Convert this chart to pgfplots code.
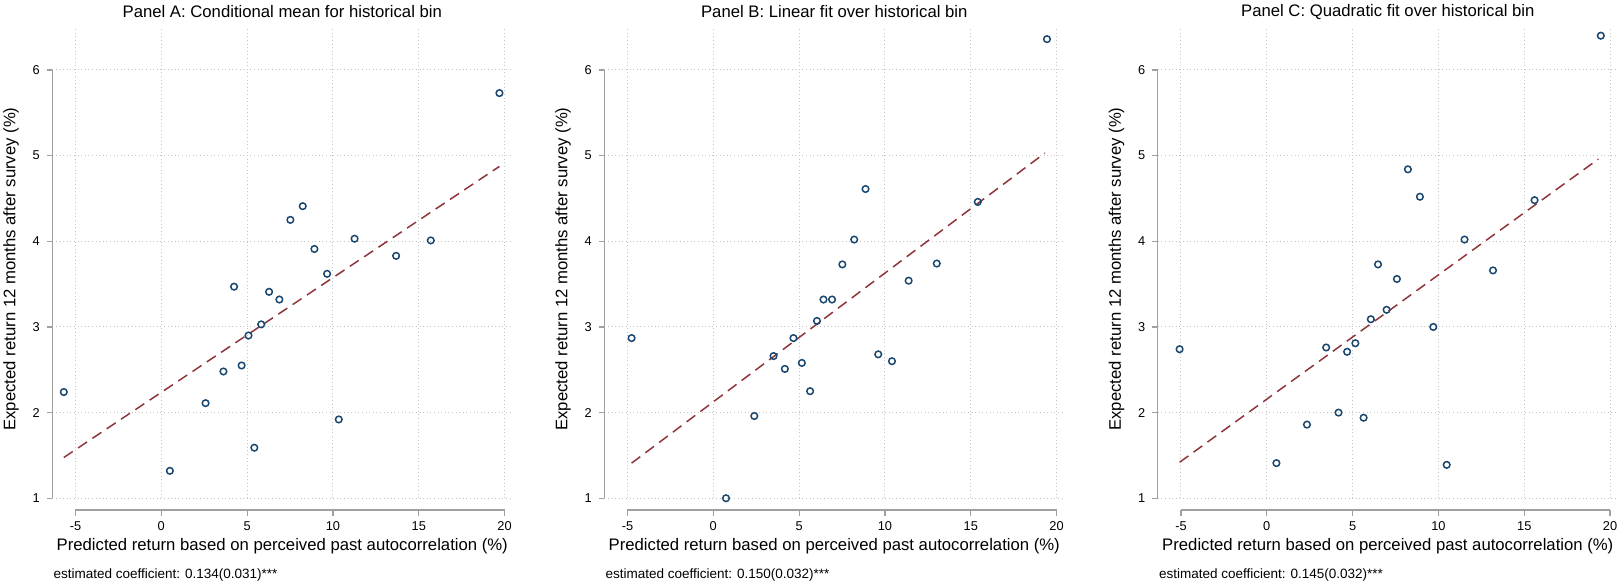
\documentclass[border=0pt]{standalone}
\usepackage{fontspec}
\setmainfont{Liberation Sans}
\usepackage{pgfplots}
\pgfplotsset{compat=1.18}
\definecolor{statablue}{HTML}{1A476F}
\definecolor{statared}{HTML}{90353B}
\definecolor{gridc}{HTML}{C4C4C4}
\definecolor{axc}{HTML}{A0A0A0}

\pgfplotstableread{
x y
-5.68 2.24
0.50 1.32
2.58 2.11
3.62 2.48
4.24 3.47
4.68 2.55
5.08 2.90
5.42 1.59
5.82 3.03
6.28 3.41
6.88 3.32
7.52 4.25
8.24 4.41
8.92 3.91
9.66 3.62
10.34 1.92
11.26 4.03
13.68 3.83
15.70 4.01
19.70 5.73
}\dataA
\pgfplotstableread{
x y
-4.76 2.87
0.74 1.00
2.39 1.96
3.51 2.66
4.17 2.51
4.67 2.87
5.16 2.58
5.64 2.25
6.04 3.07
6.42 3.32
6.92 3.32
7.52 3.73
8.21 4.02
8.87 4.61
9.61 2.68
10.41 2.60
11.38 3.54
13.02 3.74
15.41 4.46
19.44 6.36
}\dataB
\pgfplotstableread{
x y
-5.08 2.74
0.56 1.41
2.34 1.86
3.46 2.76
4.18 2.00
4.68 2.71
5.16 2.81
5.64 1.94
6.06 3.09
6.48 3.73
6.98 3.20
7.58 3.56
8.22 4.84
8.92 4.52
9.70 3.00
10.48 1.39
11.52 4.02
13.18 3.66
15.60 4.48
19.46 6.40
}\dataC

\newcommand{\ticksize}{\fontsize{6.4}{7.5}\selectfont}
\newcommand{\labsize}{\fontsize{8.35}{10}\selectfont}
\newcommand{\titsize}{\fontsize{8.35}{10}\selectfont}
\newcommand{\coefsize}{\fontsize{6.75}{8}\selectfont}

\pgfplotsset{
  panel/.style={
    scale only axis, width=230pt, height=241pt,
    xmin=-6.35, xmax=20.45, ymin=0.863, ymax=6.49,
    axis x line*=bottom, axis y line*=left,
    axis line style={draw=none,-},
    xtick={-5,0,5,10,15,20}, xticklabels={-5,0,5,10,15,20},
    ytick={1,2,3,4,5,6}, yticklabels={1,2,3,4,5,6},
    tick align=outside, major tick length=2.8pt,
    tick style={axc, line width=0.6pt},
    xticklabel style={font=\ticksize, text=black, yshift=0.6pt},
    yticklabel style={font=\ticksize, text=black},
    clip=false,
  },
}

\newcommand{\panelframe}[2]{%
  \pgfplotsinvokeforeach{1,2,3,4,5,6}{\draw[gridc, line width=0.5pt, dash pattern=on 0.5pt off 1.3pt] (axis cs:-6.35,##1) -- (axis cs:20.45,##1);}
  \pgfplotsinvokeforeach{-5,0,5,10,15,20}{\draw[gridc, line width=0.5pt, dash pattern=on 0.5pt off 1.3pt] (axis cs:##1,1) -- (axis cs:##1,6.49);}
  \draw[axc, line width=0.6pt] (axis cs:-5,0.863) -- (axis cs:20,0.863);
  \draw[axc, line width=0.6pt] (axis cs:-6.35,1) -- (axis cs:-6.35,6);
  \node[font=\titsize, anchor=center] at ([yshift=8.2pt]rel axis cs:0.5,1) {#1};
  \node[font=\labsize, anchor=center] at ([yshift=-18.2pt]rel axis cs:0.5,0) {Predicted return based on perceived past autocorrelation (\%)};
  \node[font=\labsize, anchor=center, rotate=90] at ([xshift=-20.6pt]rel axis cs:0,0.5) {Expected return 12 months after survey (\%)};
  \node[font=\coefsize, anchor=west, inner sep=0pt] at ([xshift=0.4pt,yshift=-32.6pt]rel axis cs:0,0) {#2};
}

\begin{document}
\begin{tikzpicture}
\useasboundingbox (0,0) rectangle (809.5pt,291pt);

\begin{axis}[panel, at={(26.15pt,36pt)}]
  \panelframe{Panel A: Conditional mean for historical bin}{estimated coefficient: 0.134(0.031)***}
  \addplot[statared, line width=0.75pt, dash pattern=on 5.4pt off 3.2pt] coordinates {(-5.68,1.476) (19.70,4.874)};
  \addplot[only marks, mark=o, mark size=1.65pt, statablue, mark options={line width=0.75pt}] table[x=x,y=y] {\dataA};
\end{axis}

\begin{axis}[panel, at={(302.15pt,36pt)}]
  \panelframe{Panel B: Linear fit over historical bin}{estimated coefficient: 0.150(0.032)***}
  \addplot[statared, line width=0.75pt, dash pattern=on 5.4pt off 3.2pt] coordinates {(-4.76,1.41) (19.32,5.03)};
  \addplot[only marks, mark=o, mark size=1.65pt, statablue, mark options={line width=0.75pt}] table[x=x,y=y] {\dataB};
\end{axis}

\begin{axis}[panel, at={(578.9pt,36pt)}]
  \panelframe{Panel C: Quadratic fit over historical bin}{estimated coefficient: 0.145(0.032)***}
  \addplot[statared, line width=0.75pt, dash pattern=on 5.4pt off 3.2pt] coordinates {(-5.08,1.42) (19.32,4.96)};
  \addplot[only marks, mark=o, mark size=1.65pt, statablue, mark options={line width=0.75pt}] table[x=x,y=y] {\dataC};
\end{axis}
\end{tikzpicture}
\end{document}
